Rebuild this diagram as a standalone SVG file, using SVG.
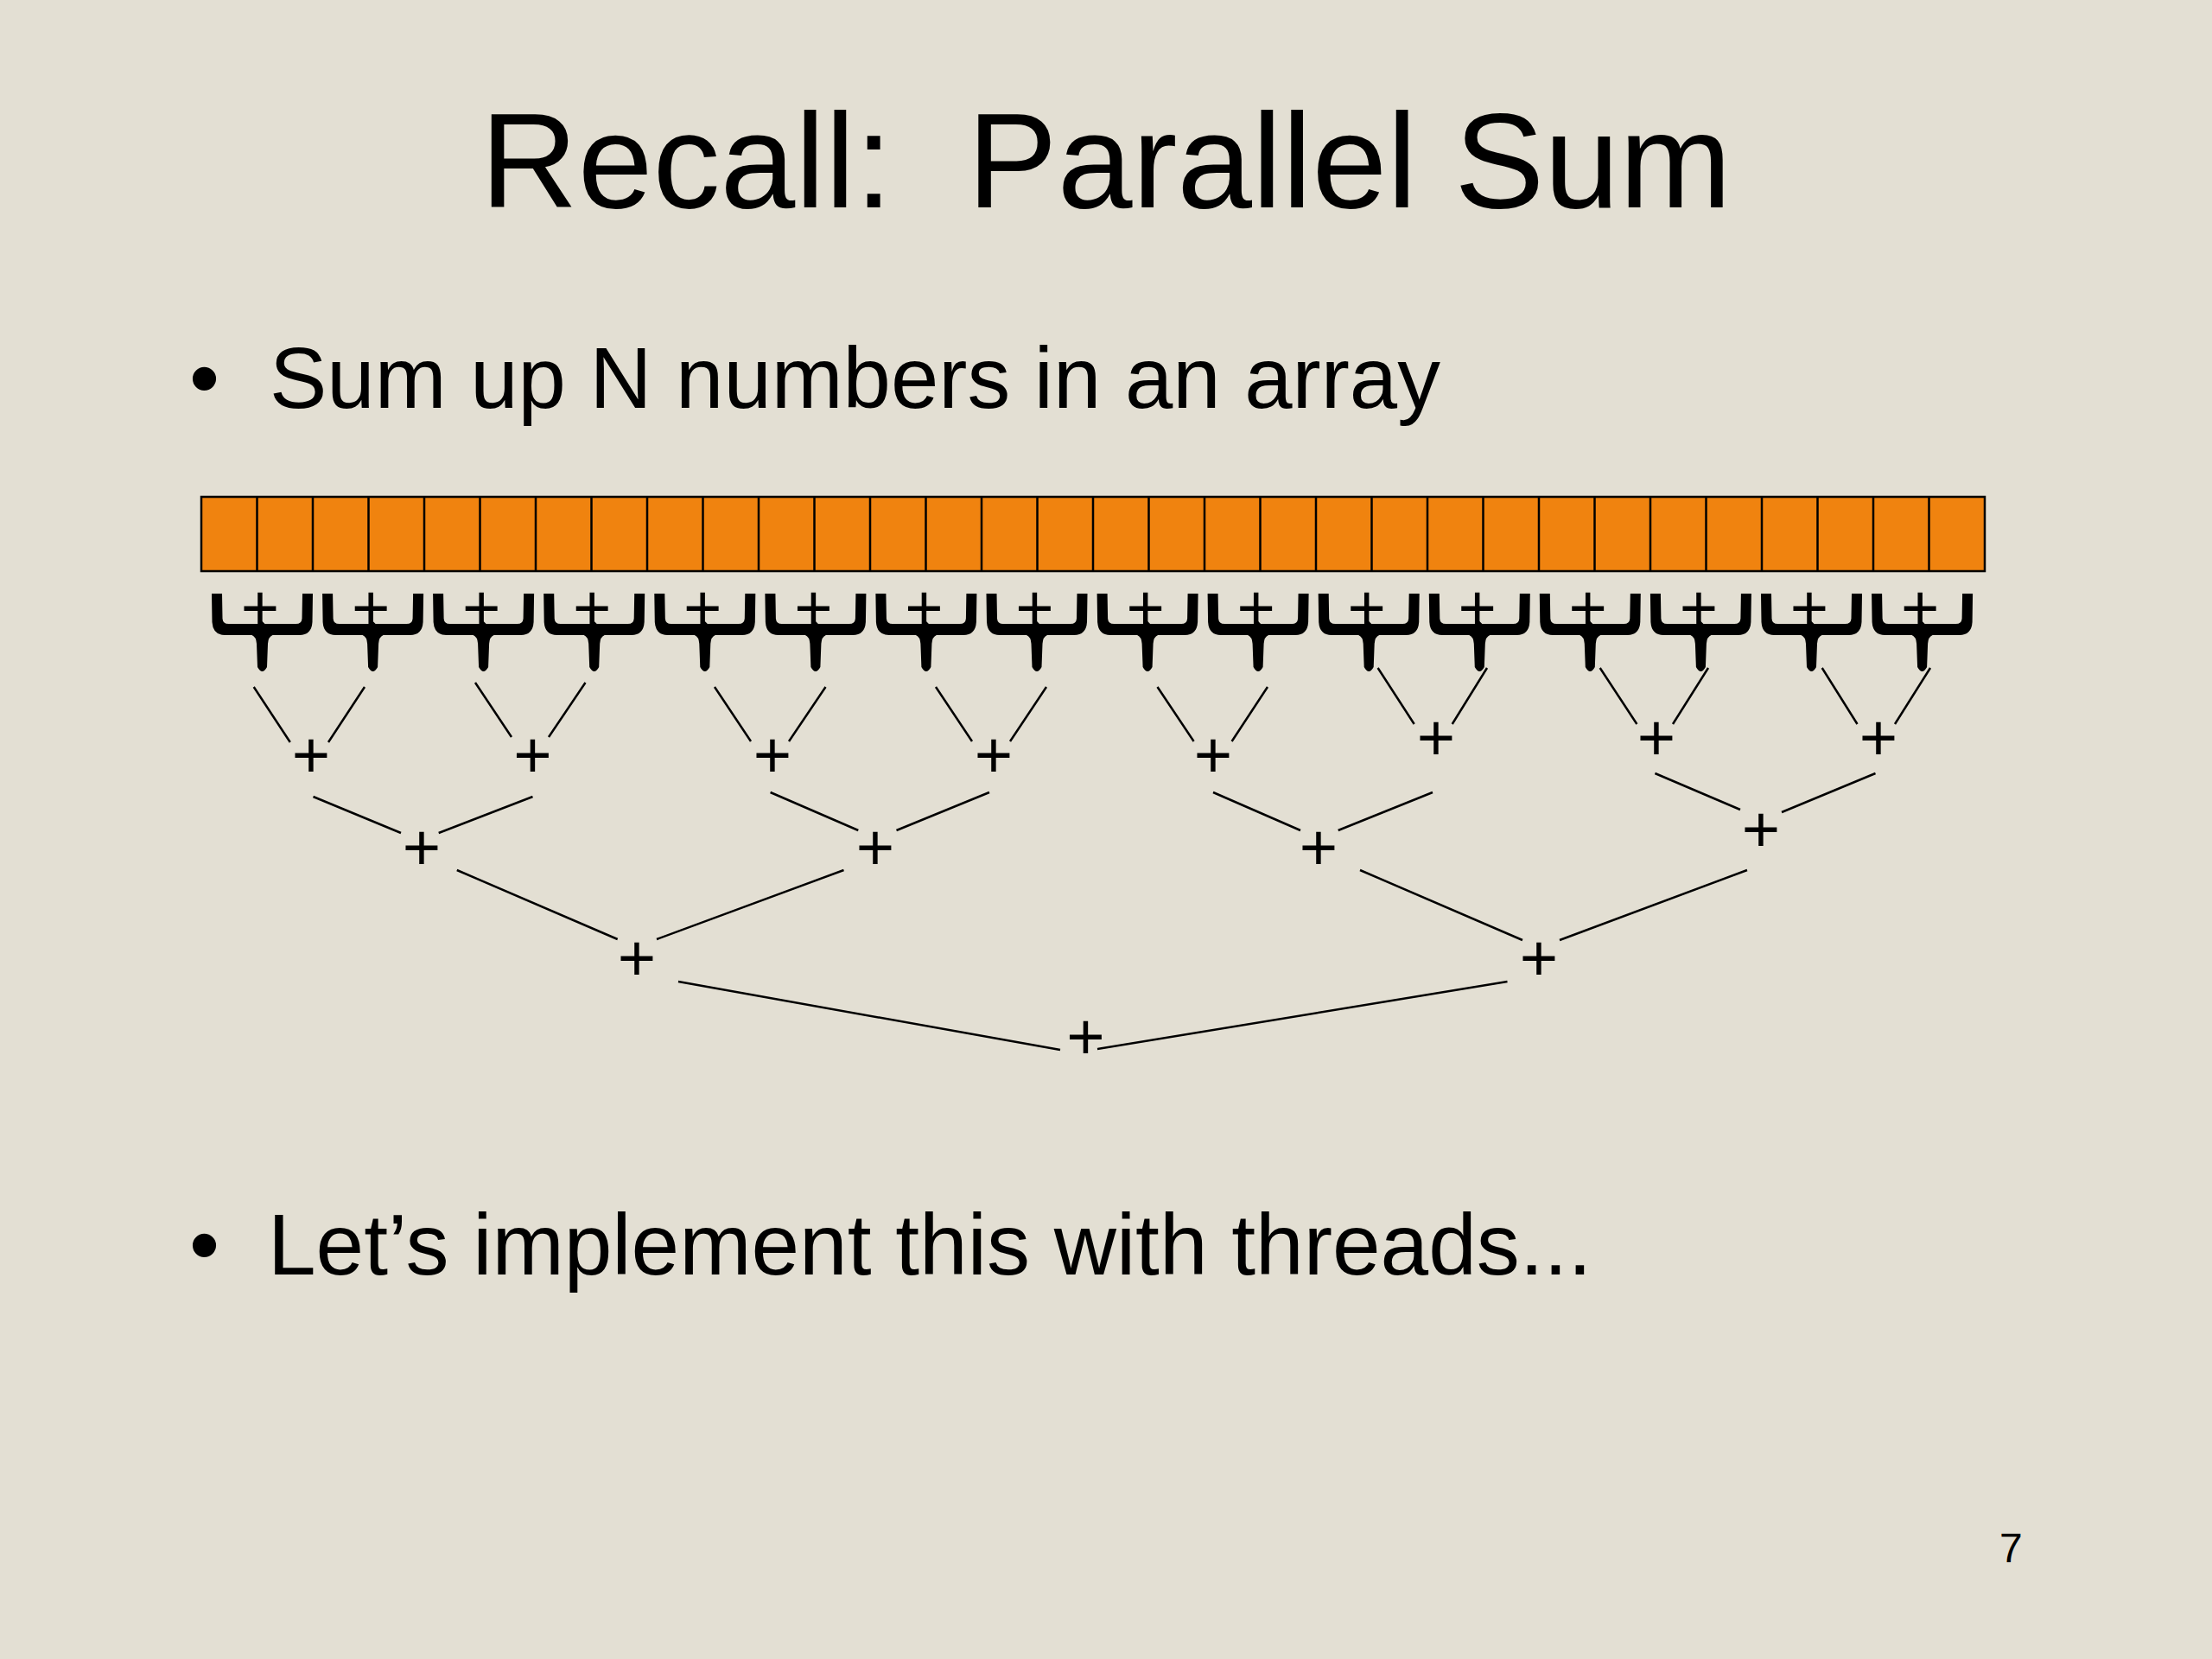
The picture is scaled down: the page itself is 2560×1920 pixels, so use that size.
<svg xmlns="http://www.w3.org/2000/svg" xmlns:xlink="http://www.w3.org/1999/xlink" width="2560" height="1920" viewBox="0 0 2560 1920">
<style>
.txt{font-family:"Liberation Sans",Arial,Helvetica,sans-serif;fill:#000}
.plus{font-family:"Liberation Sans",Arial,Helvetica,sans-serif;font-size:76px;fill:#000;text-anchor:middle}
.cell{fill:#F0830F;stroke:#000;stroke-width:2.5}
.div{stroke:#000;stroke-width:2.5}
.edge{stroke:#000;stroke-width:2.5;fill:none}
</style>
<defs>
<path id="brace" d="M -58.5 687 L -46.5 687 L -46 716 Q -45.5 722 -39 722 L -3 722 L 0 719 L 3 722 L 39 722 Q 45.5 722 46 716 L 46.5 687 L 58.5 687 L 58 720 Q 57 735 43 735 L 12 735 Q 7 737 6.5 745 L 5.5 772 Q 0 782 -5.5 772 L -6.5 745 Q -7 737 -12 735 L -43 735 Q -57 735 -58 720 Z" fill="#000"/>
</defs>
<rect x="0" y="0" width="2560" height="1920" fill="#E3DFD3"/>
<g id="title"><text class="txt" x="1280" y="240" font-size="156" text-anchor="middle" xml:space="preserve" style="white-space:pre">Recall:  Parallel Sum</text></g>
<g id="bullet1"><text class="txt" x="219" y="472" font-size="100">•</text><text class="txt" x="312" y="472" font-size="99.5">Sum up N numbers in an array</text></g>
<g id="array">
<rect class="cell" x="233" y="575" width="2064" height="86"/>
<path class="div" d="M297.5 575V661M362 575V661M426.5 575V661M491 575V661M555.5 575V661M620 575V661M684.5 575V661M749 575V661M813.5 575V661M878 575V661M942.5 575V661M1007 575V661M1071.5 575V661M1136 575V661M1200.5 575V661M1265 575V661M1329.5 575V661M1394 575V661M1458.5 575V661M1523 575V661M1587.5 575V661M1652 575V661M1716.5 575V661M1781 575V661M1845.5 575V661M1910 575V661M1974.5 575V661M2039 575V661M2103.5 575V661M2168 575V661M2232.5 575V661"/>
</g>
<g id="braces">
<g id="b0"><use xlink:href="#brace" x="303.5"/><text class="plus" x="301" y="730">+</text></g>
<g id="b1"><use xlink:href="#brace" x="431.6"/><text class="plus" x="429.1" y="730">+</text></g>
<g id="b2"><use xlink:href="#brace" x="559.6"/><text class="plus" x="557.1" y="730">+</text></g>
<g id="b3"><use xlink:href="#brace" x="687.7"/><text class="plus" x="685.2" y="730">+</text></g>
<g id="b4"><use xlink:href="#brace" x="815.8"/><text class="plus" x="813.3" y="730">+</text></g>
<g id="b5"><use xlink:href="#brace" x="943.9"/><text class="plus" x="941.4" y="730">+</text></g>
<g id="b6"><use xlink:href="#brace" x="1071.9"/><text class="plus" x="1069.4" y="730">+</text></g>
<g id="b7"><use xlink:href="#brace" x="1200"/><text class="plus" x="1197.5" y="730">+</text></g>
<g id="b8"><use xlink:href="#brace" x="1328.1"/><text class="plus" x="1325.6" y="730">+</text></g>
<g id="b9"><use xlink:href="#brace" x="1456.1"/><text class="plus" x="1453.6" y="730">+</text></g>
<g id="b10"><use xlink:href="#brace" x="1584.2"/><text class="plus" x="1581.7" y="730">+</text></g>
<g id="b11"><use xlink:href="#brace" x="1712.3"/><text class="plus" x="1709.8" y="730">+</text></g>
<g id="b12"><use xlink:href="#brace" x="1840.3"/><text class="plus" x="1837.8" y="730">+</text></g>
<g id="b13"><use xlink:href="#brace" x="1968.4"/><text class="plus" x="1965.9" y="730">+</text></g>
<g id="b14"><use xlink:href="#brace" x="2096.5"/><text class="plus" x="2094" y="730">+</text></g>
<g id="b15"><use xlink:href="#brace" x="2224.6"/><text class="plus" x="2222.1" y="730">+</text></g>
</g>
<g id="connectors">
<path class="edge" d="M293.7 795L335.8 859M422 795L380 859"/>
<path class="edge" d="M550 790L592 853M677.5 790L635 853"/>
<path class="edge" d="M827 795L869 858M955.5 795L913 858"/>
<path class="edge" d="M1083 795L1125 858M1211 795L1169 858"/>
<path class="edge" d="M1339.5 795L1381.6 858M1467 795L1425.6 858"/>
<path class="edge" d="M1594.6 773L1636.7 838M1721 773L1680.7 838"/>
<path class="edge" d="M1851.7 773L1894.4 838M1977 773L1936 838"/>
<path class="edge" d="M2108.7 773L2149.5 838M2234 773L2193 838"/>
<path class="edge" d="M362.5 922L464 964M616.5 922L507.7 964"/>
<path class="edge" d="M891.6 917L993.3 961M1145 917L1037.5 961"/>
<path class="edge" d="M1404 917L1505 961M1658 917L1548.7 961"/>
<path class="edge" d="M1915.4 895L2014 937M2170.5 895L2062 940"/>
<path class="edge" d="M528.8 1007L714.7 1087M976.5 1007L760 1087"/>
<path class="edge" d="M1574 1007L1762 1088M2022 1007L1805 1088"/>
<path class="edge" d="M785 1136L1227 1215M1270 1214L1744.5 1136"/>
</g>
<g id="n2_0"><text class="plus" x="360" y="900">+</text></g>
<g id="n2_1"><text class="plus" x="616.5" y="900">+</text></g>
<g id="n2_2"><text class="plus" x="894" y="900">+</text></g>
<g id="n2_3"><text class="plus" x="1150" y="900">+</text></g>
<g id="n2_4"><text class="plus" x="1404" y="900">+</text></g>
<g id="n2_5"><text class="plus" x="1662" y="880">+</text></g>
<g id="n2_6"><text class="plus" x="1917" y="880">+</text></g>
<g id="n2_7"><text class="plus" x="2174" y="880">+</text></g>
<g id="n3_0"><text class="plus" x="488" y="1007">+</text></g>
<g id="n3_1"><text class="plus" x="1013" y="1007">+</text></g>
<g id="n3_2"><text class="plus" x="1526" y="1007">+</text></g>
<g id="n3_3"><text class="plus" x="2038" y="986">+</text></g>
<g id="n4_0"><text class="plus" x="737" y="1135">+</text></g>
<g id="n4_1"><text class="plus" x="1781" y="1135">+</text></g>
<g id="root"><text class="plus" x="1256.5" y="1226">+</text></g>
<g id="bullet2"><text class="txt" x="219" y="1475" font-size="100">•</text><text class="txt" x="310" y="1475" font-size="100">Let’s implement this with threads...</text></g>
<g id="pagenum"><text class="txt" x="2314" y="1808" font-size="48">7</text></g>
</svg>
